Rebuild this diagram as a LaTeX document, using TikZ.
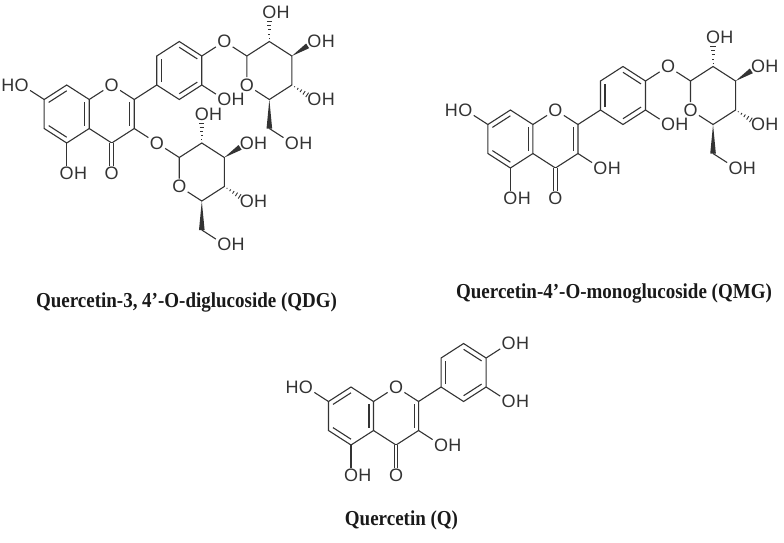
\documentclass[tikz,border=0pt]{standalone}
\usepackage{fontspec}
\setmainfont{Liberation Serif}
\newfontfamily\chemf{Liberation Sans}
\usetikzlibrary{calc}
\tikzset{
  bond/.style={line width=1.1pt, draw=black!80},
  atm/.style={inner sep=1.2pt, font=\chemf\fontsize{18}{18}\selectfont, text=black!80},
  oh/.style={atm, label={[atm,inner sep=0pt,label distance=-1.2pt]east:H}},
  ho/.style={atm, label={[atm,inner sep=0pt,label distance=-1.2pt]west:H}},
  ttl/.style={font=\bfseries\fontsize{19}{19}\selectfont, text=black!90, yscale=1.12, transform shape}
}
\newcommand\inr[3]{\draw[bond] ($(#1)!0.2!(#3)$) -- ($(#2)!0.2!(#3)$);}
\newcommand\wdg[3]{\fill[black!80] let \p1=($(#2)-(#1)$), \n1={atan2(\y1,\x1)} in (#1) -- ($($(#1)!#3!(#2)$)+(\n1+90:2.8pt)$) -- ($($(#1)!#3!(#2)$)+(\n1-90:2.8pt)$) -- cycle;}
\newcommand\hsh[2]{\draw[black!80,line width=0.9pt] let \p1=($(#2)-(#1)$), \n1={atan2(\y1,\x1)} in foreach \i in {0.12,0.26,0.4,0.54,0.68} {($(#1)!\i!(#2)$) ++(\n1+90:\i*3.8pt) -- ++(\n1-90:\i*7.6pt)};}
\newcommand\flav[1]{%
  \coordinate (#1C8) at (0,1); \coordinate (#1C8a) at (0.866,0.5);
  \coordinate (#1C4a) at (0.866,-0.5); \coordinate (#1C5) at (0,-1);
  \coordinate (#1C6) at (-0.866,-0.5); \coordinate (#1C7) at (-0.866,0.5);
  \coordinate (#1cA) at (0,0);
  \node[atm] (#1O1) at (1.732,1) {O};
  \coordinate (#1C2) at (2.598,0.5); \coordinate (#1C3) at (2.598,-0.5);
  \coordinate (#1C4) at (1.732,-1); \coordinate (#1cC) at (1.732,0);
  \node[atm] (#1O4) at (1.732,-2.05) {O};
  \node[oh] (#1O5) at (0,-2.05) {O};
  \node[ho] (#1O7) at (-1.732,1) {O};
  \coordinate (#1B1) at (3.464,1); \coordinate (#1B2) at (3.464,2);
  \coordinate (#1B3) at (4.33,2.5); \coordinate (#1B4) at (5.196,2);
  \coordinate (#1B5) at (5.196,1); \coordinate (#1B6) at (4.33,0.5);
  \coordinate (#1cB) at (4.33,1.5);
  \draw[bond] (#1C8)--(#1C8a)--(#1C4a)--(#1C5)--(#1C6)--(#1C7)--cycle;
  \draw[bond] (#1C8a)--(#1O1)--(#1C2)--(#1C3)--(#1C4)--(#1C4a);
  \draw[bond] (#1C2)--(#1B1);
  \draw[bond] (#1B1)--(#1B2)--(#1B3)--(#1B4)--(#1B5)--(#1B6)--cycle;
  \draw[bond] (#1C7)--(#1O7); \draw[bond] (#1C5)--(#1O5);
  \draw[bond, double=white, double distance=2.6pt] (#1C4)--(#1O4);
  \inr{#1C7}{#1C8}{#1cA} \inr{#1C8a}{#1C4a}{#1cA} \inr{#1C5}{#1C6}{#1cA}
  \inr{#1C2}{#1C3}{#1cC}
  \inr{#1B1}{#1B2}{#1cB} \inr{#1B3}{#1B4}{#1cB} \inr{#1B5}{#1B6}{#1cB}
}
\newcommand\sugar[1]{%
  \coordinate (#1S1) at (-0.866,0.5); \coordinate (#1S2) at (0,1);
  \coordinate (#1S3) at (0.866,0.5); \coordinate (#1S4) at (0.866,-0.5);
  \coordinate (#1S5) at (0,-1); \node[atm] (#1SO) at (-0.866,-0.5) {O};
  \coordinate (#1S6) at (0,-2);
  \node[oh] (#1H2) at (0,2) {O};
  \node[oh] (#1H3) at (1.732,1) {O};
  \node[oh] (#1H4) at (1.732,-1) {O};
  \node[oh] (#1H6) at (0.866,-2.5) {O};
  \draw[bond] (#1S1)--(#1S2)--(#1S3)--(#1S4)--(#1S5)--(#1SO)--(#1S1);
  \hsh{#1S2}{#1H2} \wdg{#1S3}{#1H3}{0.7} \hsh{#1S4}{#1H4} \wdg{#1S5}{#1S6}{1}
  \draw[bond] (#1S6)--(#1H6);
}
\begin{document}
\begin{tikzpicture}[x=1pt,y=1pt]
\useasboundingbox (0,0) rectangle (784,-542);
% QDG
\begin{scope}[shift={(66.7,-114)}, x=26pt, y=29pt]
  \flav{a}
  \node[atm] (aO4p) at (6.062,2.5) {O};
  \node[oh] (aO3p) at (6.062,0.5) {O};
  \node[atm] (aO3) at (3.464,-1) {O};
  \draw[bond] (aB4)--(aO4p); \draw[bond] (aB5)--(aO3p); \draw[bond] (aC3)--(aO3);
  \begin{scope}[shift={(7.794,1.5)}] \sugar{as} \end{scope}
  \begin{scope}[shift={(5.196,-2)}] \sugar{at} \end{scope}
  \draw[bond] (aO4p)--(asS1); \draw[bond] (aO3)--(atS1);
\end{scope}
% QMG
\begin{scope}[shift={(510.4,-139)}, x=26pt, y=29pt]
  \flav{b}
  \node[atm] (bO4p) at (6.062,2.5) {O};
  \node[oh] (bO3p) at (6.062,0.5) {O};
  \node[oh] (bO3) at (3.464,-1) {O};
  \draw[bond] (bB4)--(bO4p); \draw[bond] (bB5)--(bO3p); \draw[bond] (bC3)--(bO3);
  \begin{scope}[shift={(7.794,1.5)}] \sugar{bs} \end{scope}
  \draw[bond] (bO4p)--(bsS1);
\end{scope}
% Q
\begin{scope}[shift={(351,-416)}, x=26pt, y=29pt]
  \flav{c}
  \node[oh] (cO4p) at (6.062,2.5) {O};
  \node[oh] (cO3p) at (6.062,0.5) {O};
  \node[oh] (cO3) at (3.464,-1) {O};
  \draw[bond] (cB4)--(cO4p); \draw[bond] (cB5)--(cO3p); \draw[bond] (cC3)--(cO3);
\end{scope}
\node[ttl] (t1) at (186.5,-302) {Quercetin-3, 4’-O-diglucoside (QDG)};
\node[ttl] (t2) at (614,-293) {Quercetin-4’-O-monoglucoside (QMG)};
\node[ttl] (t3) at (401.5,-520) {Quercetin (Q)};
\end{tikzpicture}
\end{document}
